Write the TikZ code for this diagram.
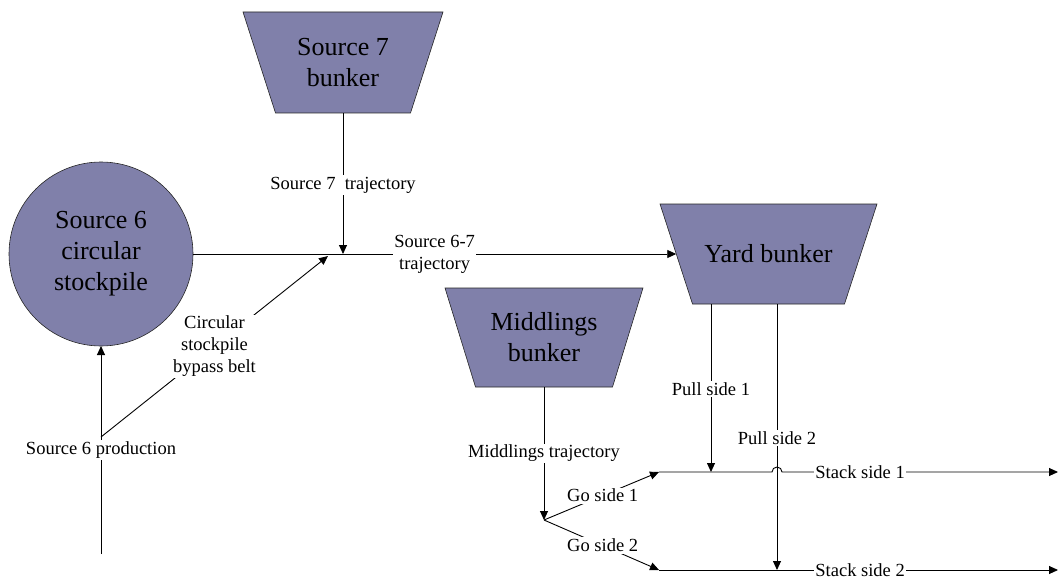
\documentclass[tikz,border=0pt]{standalone}
\usepackage{fontspec}
\setmainfont{Liberation Serif}
\usetikzlibrary{arrows.meta,backgrounds,calc}
\definecolor{bunkerfill}{RGB}{128,128,170}
\begin{document}
\begin{tikzpicture}[x=1pt,y=-1pt,
  big/.style={font=\fontsize{26}{31}\selectfont, align=center},
  lbl/.style={font=\fontsize{18.5}{22}\selectfont, align=center, fill=white, inner sep=1.5pt},
  bunker/.style={big, inner sep=0pt, outer sep=0pt},
  shapeline/.style={draw=black!85, line width=0.6pt, fill=bunkerfill},
  flow/.style={draw, line width=0.9pt, -{Triangle[length=9pt,width=8pt]}}]
\useasboundingbox (0,0) rectangle (1059,580);

% bunkers and stockpile
\node[bunker, minimum width=200pt, minimum height=101pt] (s7) at (343,62.5) {Source 7\\bunker};
\node[bunker, minimum width=217pt, minimum height=100pt] (yard) at (768.5,254) {Yard bunker};
\node[bunker, minimum width=198pt, minimum height=99pt] (mid) at (544,337.5) {Middlings\\bunker};
\node[circle, shapeline, big, minimum size=184pt, inner sep=0pt, outer sep=0pt] (s6) at (101,254) {Source 6\\circular\\stockpile};

\begin{scope}[on background layer]
\draw[shapeline] (s7.north west) -- (s7.north east) -- ([xshift=-32.5pt]s7.south east) -- ([xshift=32.5pt]s7.south west) -- cycle;
\draw[shapeline] (yard.north west) -- (yard.north east) -- ([xshift=-32.5pt]yard.south east) -- ([xshift=32.5pt]yard.south west) -- cycle;
\draw[shapeline] (mid.north west) -- (mid.north east) -- ([xshift=-30.5pt]mid.south east) -- ([xshift=30.5pt]mid.south west) -- cycle;
\end{scope}

% junction points
\coordinate (j) at (343,254);
\coordinate (jb) at (328,256);
\coordinate (br) at (101,437);
\coordinate (p0) at (101,554);
\coordinate (yin) at ([xshift=16.25pt]yard.west);
\coordinate (gs) at (544,520);
\coordinate (st1) at (659,472);
\coordinate (st2) at (659,570);
\coordinate (e1) at (1058,472);
\coordinate (e2) at (1058,570);
\coordinate (p1e) at (711,472);
\coordinate (p2e) at (777,570);
\coordinate (x1) at (st1 -| p2e);

% connectors
\draw[flow] (s7.south) -- node[lbl, pos=0.51]{Source 7~ trajectory} (j);
\draw[flow] (s6.east) -- node[lbl]{Source 6-7\\trajectory} (yin);
\draw[flow] (br) -- node[lbl]{Circular\\stockpile\\bypass belt} (jb);
\draw[flow] (p0) -- node[lbl]{Source 6 production} (s6.south);

\draw[flow] (mid.south) -- node[lbl]{Middlings trajectory} (gs);
\draw[flow] (gs) -- node[lbl, pos=0.51]{Go side 1} (st1);
\draw[flow] (gs) -- node[lbl, pos=0.51]{Go side 2} (st2);

\draw[flow] ([xshift=-57.5pt]yard.south) -- node[lbl, pos=0.506]{Pull side 1} (p1e);
\draw[flow] ([xshift=8.5pt]yard.south) -- node[lbl, pos=0.504]{Pull side 2} (p2e);

\draw[flow] (st1) -- ([xshift=-5pt]x1) arc[start angle=180, end angle=360, radius=5] -- node[lbl, pos=0.283]{Stack side 1} (e1);
\draw[flow] (st2) -- node[lbl, pos=0.504]{Stack side 2} (e2);
\end{tikzpicture}
\end{document}
